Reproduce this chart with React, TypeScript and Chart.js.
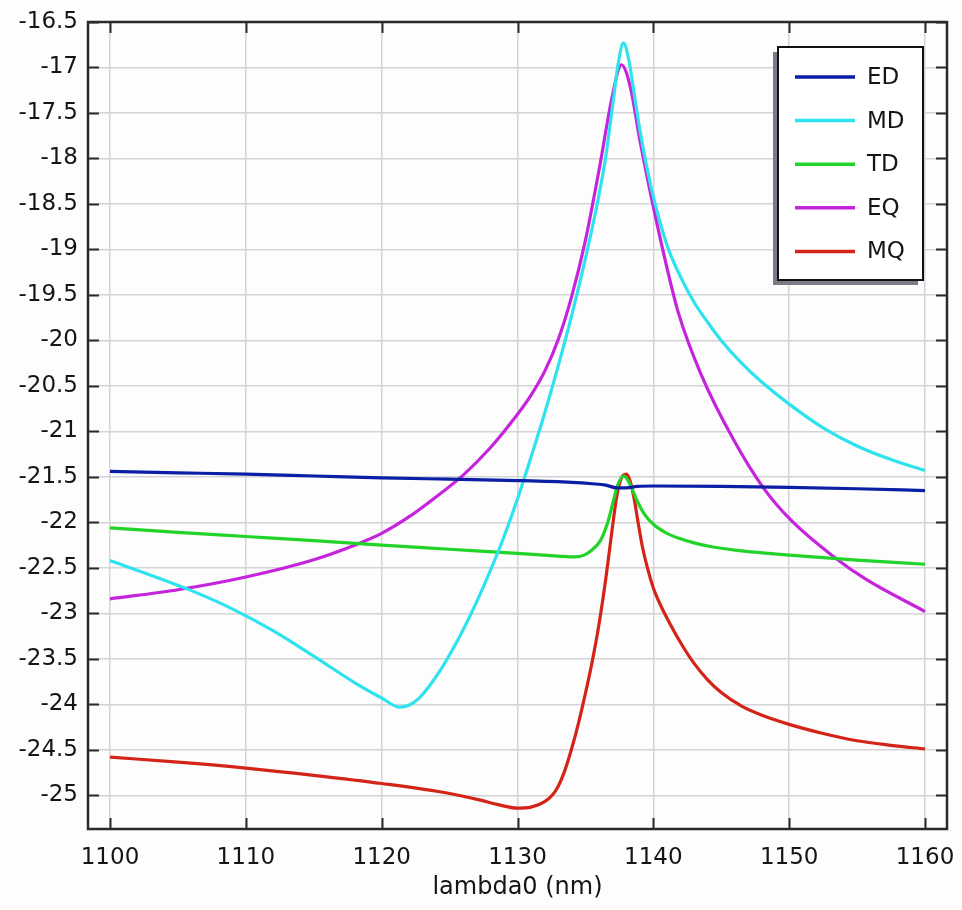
import React, { useEffect, useRef } from "react";
import { Chart, registerables } from "chart.js";

Chart.register(...registerables);

const X_TICKS = [1100, 1110, 1120, 1130, 1140, 1150, 1160];
const Y_TICKS = [-25, -24.5, -24, -23.5, -23, -22.5, -22, -21.5, -21, -20.5, -20, -19.5, -19, -18.5, -18, -17.5, -17, -16.5];
const X_MIN = 1098.38;
const X_MAX = 1161.62;
const Y_MIN = -25.37;
const Y_MAX = -16.5;
const X_TITLE = "lambda0 (nm)";

const SERIES_NAMES = ["ED", "MD", "TD", "EQ", "MQ"];
const SERIES_COLORS = ["#0a1ea6", "#2ee2ee", "#22d42a", "#c524dc", "#d42418"];

const ED: [number, number][] = [
  [1100, -21.44], [1105, -21.455], [1110, -21.47], [1115, -21.49], [1120, -21.51], [1125, -21.525],
  [1130, -21.54], [1134, -21.56], [1135.5, -21.575], [1136.5, -21.59], [1137.3, -21.62], [1138, -21.62],
  [1138.8, -21.605], [1140, -21.6], [1145, -21.605], [1150, -21.615], [1155, -21.63], [1160, -21.65],
];

const MD: [number, number][] = [
  [1100, -22.42], [1103, -22.58], [1106, -22.75], [1109, -22.95], [1112, -23.19], [1115, -23.47],
  [1118, -23.76], [1120, -23.93], [1121.3, -24.03], [1122, -24.01], [1122.7, -23.94], [1123.5, -23.8],
  [1124.3, -23.63], [1125.1, -23.43], [1126, -23.18], [1127, -22.87], [1128, -22.53], [1129, -22.16],
  [1130, -21.74], [1131, -21.28], [1132, -20.8], [1133, -20.28], [1134, -19.72], [1135, -19.1],
  [1135.8, -18.55], [1136.5, -17.98], [1137, -17.42], [1137.4, -16.97], [1137.8, -16.73], [1138.2, -16.92],
  [1138.6, -17.3], [1139, -17.68], [1139.5, -18.08], [1140, -18.42], [1141, -18.95], [1142, -19.3],
  [1143, -19.58], [1144, -19.8], [1145, -20.0], [1146.5, -20.25], [1148, -20.46], [1150, -20.7],
  [1152.5, -20.96], [1155, -21.16], [1157.5, -21.31], [1160, -21.43],
];

const TD: [number, number][] = [
  [1100, -22.06], [1105, -22.11], [1110, -22.155], [1115, -22.2], [1120, -22.25], [1125, -22.295],
  [1130, -22.34], [1133, -22.37], [1134.2, -22.38], [1134.9, -22.36], [1135.5, -22.3], [1136.1, -22.2],
  [1136.6, -22.02], [1137, -21.8], [1137.35, -21.6], [1137.8, -21.49], [1138.1, -21.53], [1138.4, -21.62],
  [1138.8, -21.76], [1139.3, -21.9], [1140, -22.02], [1141, -22.12], [1142, -22.18], [1143, -22.225],
  [1144, -22.26], [1146, -22.305], [1148, -22.335], [1150, -22.36], [1155, -22.415], [1160, -22.46],
];

const EQ: [number, number][] = [
  [1100, -22.84], [1105, -22.74], [1110, -22.6], [1115, -22.41], [1118, -22.25], [1120, -22.12],
  [1122, -21.94], [1124, -21.72], [1126, -21.48], [1128, -21.18], [1129.7, -20.87], [1131, -20.6],
  [1132, -20.34], [1133, -19.99], [1134, -19.51], [1135, -18.9], [1136, -18.13], [1137, -17.3],
  [1137.65, -16.97], [1138.3, -17.21], [1139, -17.79], [1140, -18.53], [1141, -19.2], [1141.85, -19.7],
  [1143.45, -20.35], [1145.9, -21.09], [1148.1, -21.62], [1150.1, -21.97], [1153.3, -22.38], [1155.7, -22.63],
  [1160, -22.98],
];

const MQ: [number, number][] = [
  [1100, -24.58], [1105, -24.635], [1110, -24.7], [1115, -24.78], [1120, -24.87], [1125, -24.98],
  [1127.2, -25.05], [1128.5, -25.1], [1130, -25.14], [1131, -25.13], [1132, -25.07], [1132.6, -24.99],
  [1133, -24.9], [1133.5, -24.72], [1134, -24.48], [1134.5, -24.2], [1135, -23.88], [1135.5, -23.53],
  [1136, -23.12], [1136.5, -22.62], [1137, -22.04], [1137.3, -21.72], [1137.6, -21.53], [1138, -21.47],
  [1138.3, -21.55], [1138.6, -21.75], [1138.9, -22.02], [1139.2, -22.27], [1139.6, -22.52], [1140, -22.72],
  [1140.5, -22.9], [1141, -23.05], [1142, -23.32], [1143, -23.55], [1144, -23.73], [1145, -23.87],
  [1146.5, -24.02], [1148, -24.12], [1150, -24.22], [1152.5, -24.32], [1155, -24.4], [1157.5, -24.45],
  [1160, -24.49],
];

const SERIES_DATA = [ED, MD, TD, EQ, MQ];

const FONT = "'DejaVu Sans', 'Noto Sans', sans-serif";

const framePlugin = {
  id: "frameAndLegend",
  afterDraw(chart: any) {
    const { ctx, chartArea } = chart;
    const { left, right, top, bottom } = chartArea;
    const xs = chart.scales.x;
    const ys = chart.scales.y;
    ctx.save();
    // inward ticks
    ctx.strokeStyle = "#2a2a2a";
    ctx.lineWidth = 2;
    const TL = 11;
    ctx.beginPath();
    X_TICKS.forEach((v) => {
      const px = Math.round(xs.getPixelForValue(v)) + 0.5;
      ctx.moveTo(px, bottom);
      ctx.lineTo(px, bottom - TL);
      ctx.moveTo(px, top);
      ctx.lineTo(px, top + TL);
    });
    Y_TICKS.forEach((v) => {
      const py = Math.round(ys.getPixelForValue(v)) + 0.5;
      ctx.moveTo(left, py);
      ctx.lineTo(left + TL, py);
      ctx.moveTo(right, py);
      ctx.lineTo(right - TL, py);
    });
    ctx.stroke();
    // frame
    ctx.strokeStyle = "#2a2a2a";
    ctx.lineWidth = 2.5;
    ctx.strokeRect(left, top, right - left, bottom - top);

    // legend
    const bw = 145;
    const bh = 233;
    const bx = right - 24 - bw;
    const by = top + 25;
    ctx.fillStyle = "#7c7a84";
    ctx.fillRect(bx - 5, by + 5, bw, bh);
    ctx.fillStyle = "#ffffff";
    ctx.fillRect(bx, by, bw, bh);
    ctx.strokeStyle = "#111111";
    ctx.lineWidth = 2;
    ctx.strokeRect(bx, by, bw, bh);
    ctx.font = `23px ${FONT}`;
    ctx.textBaseline = "middle";
    ctx.textAlign = "left";
    chart.data.datasets.forEach((ds: any, i: number) => {
      const ry = by + 30 + i * 43.6;
      ctx.strokeStyle = ds.borderColor;
      ctx.lineWidth = 3.5;
      ctx.beginPath();
      ctx.moveTo(bx + 17, ry);
      ctx.lineTo(bx + 77, ry);
      ctx.stroke();
      ctx.fillStyle = "#151515";
      ctx.fillText(ds.label, bx + 89, ry + 1);
    });
    ctx.restore();
  },
};

export default function App() {
  const ref = useRef<HTMLCanvasElement | null>(null);

  useEffect(() => {
    if (!ref.current) return;
    const chart = new Chart(ref.current, {
      type: "line",
      data: {
        datasets: SERIES_NAMES.map((name, i) => ({
          label: name,
          data: SERIES_DATA[i].map(([x, y]) => ({ x, y })),
          borderColor: SERIES_COLORS[i],
          backgroundColor: SERIES_COLORS[i],
          borderWidth: 3.2,
          pointRadius: 0,
          pointHoverRadius: 0,
          fill: false,
          cubicInterpolationMode: "monotone" as const,
        })),
      },
      options: {
        animation: false,
        responsive: false,
        devicePixelRatio: 1,
        layout: { padding: { top: 22, right: 15, left: 0, bottom: 0 } },
        plugins: {
          legend: { display: false },
          tooltip: { enabled: false },
        },
        events: [],
        scales: {
          x: {
            type: "linear",
            min: X_MIN,
            max: X_MAX,
            afterBuildTicks: (s: any) => {
              s.ticks = X_TICKS.map((v) => ({ value: v }));
            },
            afterFit: (s: any) => {
              s.height = 81;
              s.paddingLeft = 0;
              s.paddingRight = 0;
            },
            ticks: {
              callback: (v: any) => String(v),
              font: { family: FONT, size: 23 },
              color: "#151515",
              padding: 15,
              maxRotation: 0,
              autoSkip: false,
            },
            grid: { color: "#d4d4d6", lineWidth: 1.5, drawTicks: false },
            border: { display: false },
            title: {
              display: true,
              text: X_TITLE,
              font: { family: FONT, size: 24 },
              color: "#151515",
              padding: { top: 0, bottom: 8 },
            },
          },
          y: {
            type: "linear",
            min: Y_MIN,
            max: Y_MAX,
            afterBuildTicks: (s: any) => {
              s.ticks = Y_TICKS.map((v) => ({ value: v }));
            },
            afterFit: (s: any) => {
              s.width = 88;
              s.paddingTop = 0;
              s.paddingBottom = 0;
            },
            ticks: {
              callback: (v: any) => String(v),
              font: { family: FONT, size: 23 },
              color: "#151515",
              padding: 10,
              autoSkip: false,
            },
            grid: { color: "#d4d4d6", lineWidth: 1.5, drawTicks: false },
            border: { display: false },
          },
        },
      },
      plugins: [framePlugin],
    });
    return () => chart.destroy();
  }, []);

  return (
    <div style={{ position: "fixed", left: 0, top: 0, width: 962, height: 910, background: "#fdfdfe" }}>
      <canvas ref={ref} width={962} height={910} style={{ width: 962, height: 910 }} />
    </div>
  );
}
